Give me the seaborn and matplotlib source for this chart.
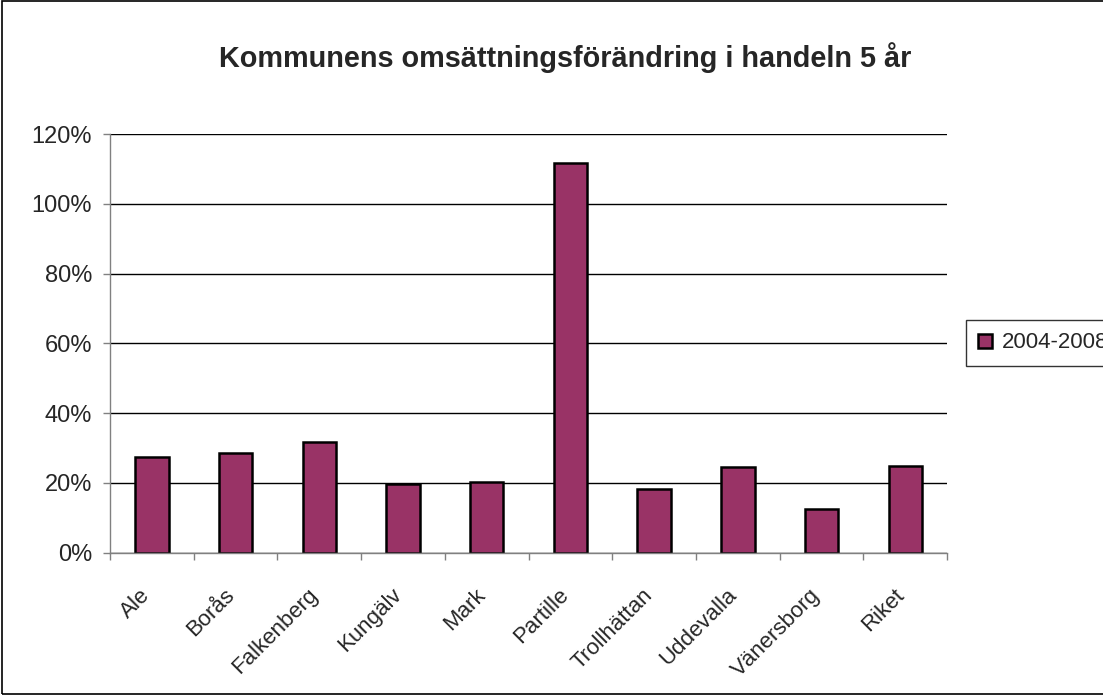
import matplotlib
matplotlib.use('Agg')
import matplotlib.pyplot as plt
from matplotlib.patches import Rectangle
from matplotlib.ticker import FixedLocator
from matplotlib.transforms import ScaledTranslation
import seaborn as sns

kommuner = ['Ale', 'Borås', 'Falkenberg', 'Kungälv', 'Mark', 'Partille',
            'Trollhättan', 'Uddevalla', 'Vänersborg', 'Riket']
andring = [27.5, 28.6, 31.6, 19.6, 20.2, 111.7, 18.1, 24.4, 12.5, 24.9]
serie = '2004-2008'
yticks = [0, 20, 40, 60, 80, 100, 120]
yticklabels = ['0%', '20%', '40%', '60%', '80%', '100%', '120%']

sns.set_style('white')
plt.rcParams['font.family'] = ['Liberation Sans', 'DejaVu Sans']

fig = plt.figure(figsize=(11.03, 6.95), dpi=100)
ax = fig.add_axes([0.0997, 0.205, 0.759, 0.602])

sns.barplot(x=kommuner, y=andring, color='#993366', width=0.4,
            edgecolor='black', linewidth=1.8, saturation=1, label=serie, ax=ax)

ax.set_ylim(0, 120)
ax.set_xlim(-0.5, len(kommuner) - 0.5)
ax.set_yticks(yticks)
ax.set_yticklabels(yticklabels, fontsize=17)
ax.yaxis.grid(True, color='black', linewidth=1)
ax.set_axisbelow(True)

ax.set_xticks(range(len(kommuner)))
ax.set_xticklabels(kommuner, rotation=45, ha='right', va='top',
                   rotation_mode='anchor', fontsize=16)
ax.xaxis.set_minor_locator(FixedLocator([i - 0.5 for i in range(len(kommuner) + 1)]))
ax.tick_params(axis='x', which='major', length=0, pad=23)
ax.tick_params(axis='x', which='minor', length=5, color='#808080', width=1, bottom=True)
ax.tick_params(axis='y', length=5, color='#808080', width=1, left=True, pad=8)

# nudge the rotated labels left, after tick_params (which resets transforms)
shift = ScaledTranslation(-12 / 100, 0, fig.dpi_scale_trans)
for lbl in ax.get_xticklabels():
    lbl.set_transform(lbl.get_transform() + shift)

for s in ['top', 'right']:
    ax.spines[s].set_visible(False)
for s in ['left', 'bottom']:
    ax.spines[s].set_color('#808080')
    ax.spines[s].set_linewidth(1)
ax.set_xlabel('')
ax.set_ylabel('')

fig.suptitle('Kommunens omsättningsförändring i handeln 5 år', x=0.512, y=0.917,
             va='center', fontsize=20.8, fontweight='bold')

handles, labels = ax.get_legend_handles_labels()
if ax.get_legend():
    ax.get_legend().remove()
leg = fig.legend(handles, labels, loc='center left', bbox_to_anchor=(0.8758, 0.5065),
                 fontsize=16, frameon=True, fancybox=False, edgecolor='black',
                 handlelength=0.6, handleheight=0.6, handletextpad=0.45,
                 borderpad=0.55, borderaxespad=0)
leg.get_frame().set_linewidth(1)

fig.patches.append(Rectangle((0.0015, 0.002), 1.2, 0.996, transform=fig.transFigure,
                             fill=False, edgecolor='black', linewidth=1.2))

fig.savefig('out.png', dpi=100)
